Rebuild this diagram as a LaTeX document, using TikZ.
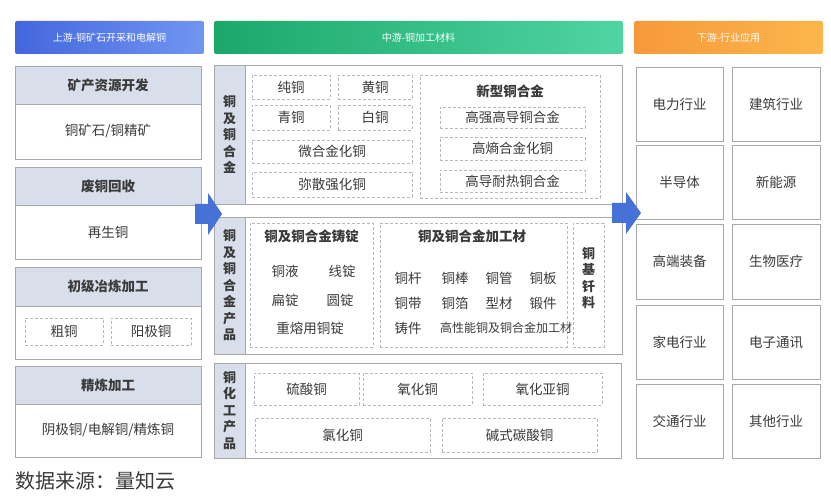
\documentclass[tikz,border=0pt]{standalone}
\usepackage{fontspec}
\setmainfont{Noto Sans CJK SC}
\usetikzlibrary{positioning}

\definecolor{bandgrey}{HTML}{D8DFEA}
\definecolor{cellline}{HTML}{A8A8A8}
\definecolor{dashline}{HTML}{B8B8B8}
\definecolor{ink}{HTML}{3A3A3A}
\definecolor{arrowblue}{HTML}{4672D8}
\definecolor{upleft}{HTML}{4466DD}
\definecolor{upright}{HTML}{7096F2}
\definecolor{midleft}{HTML}{1BA86A}
\definecolor{midright}{HTML}{50D4A3}
\definecolor{downleft}{HTML}{F7993A}
\definecolor{downright}{HTML}{FBB64C}

\tikzset{
  sz/.style 2 args={minimum width=#1pt, minimum height=#2pt},
  hdr/.style={rounded corners=2pt, text=white, inner sep=0pt,
    font=\fontsize{10}{12}\selectfont},
  cell/.style={draw=cellline, line width=0.9pt, fill=white, inner sep=0pt,
    text=ink, font=\fontsize{13.5}{16}\selectfont},
  headcell/.style={cell, fill=bandgrey, font=\fontsize{13.5}{16}\selectfont\bfseries},
  band/.style={cell, fill=bandgrey, align=center,
    font=\fontsize{13}{16.5}\selectfont\bfseries},
  dbox/.style={draw=dashline, dash pattern=on 3pt off 2pt, line width=0.8pt,
    fill=white, inner sep=0pt, text=ink, font=\fontsize{13.5}{16}\selectfont},
  item/.style={inner sep=0pt, text=ink, font=\fontsize{13.5}{16}\selectfont},
  title/.style={item, font=\fontsize{13.5}{16}\selectfont\bfseries},
  blockarrow/.style={fill=arrowblue}
}

\begin{document}
\begin{tikzpicture}[x=1pt, y=-1pt]
  \useasboundingbox[fill=white] (0,0) rectangle (831,500);

  % stage bars
  \node[hdr, sz={189}{33}, left color=upleft, right color=upright] (up) at (109.5,37.5) {上游-铜矿石开采和电解铜};
  \node[hdr, sz={409}{33}, left color=midleft, right color=midright] (mid) at (418.5,37.5) {中游-铜加工材料};
  \node[hdr, sz={189}{33}, left color=downleft, right color=downright] (down) at (728.5,37.5) {下游-行业应用};

  % upstream
  \node[headcell, sz={186}{38}] (minehd) at (108,85) {矿产资源开发};
  \node[cell, sz={186}{55}] (mine) at (108,131.5) {铜矿石/铜精矿};
  \node[headcell, sz={186}{38}] (scraphd) at (108,186) {废铜回收};
  \node[cell, sz={186}{54}] (scrap) at (108,232) {再生铜};
  \node[headcell, sz={186}{39}] (smelthd) at (108,286.5) {初级冶炼加工};
  \node[cell, sz={186}{53}] (smelt) at (108,332.5) {};
  \node[dbox, sz={78}{27}] (blister) at (64,331.5) {粗铜};
  \node[dbox, sz={80}{27}] (anode) at (151,331.5) {阳极铜};
  \node[headcell, sz={186}{38}] (refinehd) at (108,385) {精炼加工};
  \node[cell, sz={186}{53}] (refine) at (108,430.5) {阴极铜/电解铜/精炼铜};
  \node[anchor=west, inner sep=0pt, text=ink, font=\fontsize{20}{24}\selectfont] (source) at (15,481) {数据来源：量知云};

  % midstream: alloys
  \node[cell, sz={408}{139}] (alloy) at (418,134.5) {};
  \node[band, sz={31}{139}] (alloyband) at (229.5,134.5) {铜\\及\\铜\\合\\金};
  \node[dbox, sz={78}{24}] (pure) at (291,87) {纯铜};
  \node[dbox, sz={74}{24}] (brass) at (375,87) {黄铜};
  \node[dbox, sz={78}{25}] (bronze) at (291,117.5) {青铜};
  \node[dbox, sz={74}{25}] (cupro) at (375,117.5) {白铜};
  \node[dbox, sz={160}{23}] (micro) at (332,151.5) {微合金化铜};
  \node[dbox, sz={160}{25}] (disp) at (332,184.5) {弥散强化铜};
  \node[dbox, sz={180}{123}] (newalloy) at (510,136.5) {};
  \node[title] (newtitle) at (510,91) {新型铜合金};
  \node[dbox, sz={145}{21}] (hshc) at (512.5,117.5) {高强高导铜合金};
  \node[dbox, sz={145}{23}] (heac) at (512.5,148.5) {高熵合金化铜};
  \node[dbox, sz={145}{22}] (hchr) at (512.5,181) {高导耐热铜合金};

  % midstream: products
  \node[cell, sz={408}{137}] (prod) at (418,285.5) {};
  \node[band, sz={31}{137}] (prodband) at (229.5,285.5) {铜\\及\\铜\\合\\金\\产\\品};
  \node[dbox, sz={123}{124}] (ingot) at (311.5,285) {};
  \node[title] (ingottitle) at (311.5,236) {铜及铜合金铸锭};
  \node[item] (liquid) at (285,271) {铜液};
  \node[item] (wire) at (342,271) {线锭};
  \node[item] (slab) at (285,300) {扁锭};
  \node[item] (round) at (340,300) {圆锭};
  \node[item] (remelt) at (310,328) {重熔用铜锭};
  \node[dbox, sz={187}{124}] (semi) at (473.5,285) {};
  \node[title] (semititle) at (472,236) {铜及铜合金加工材};
  \node[item] (rod) at (408,278) {铜杆};
  \node[item] (bar) at (455,278) {铜棒};
  \node[item] (tube) at (499,278) {铜管};
  \node[item] (plate) at (543,278) {铜板};
  \node[item] (strip) at (408,303) {铜带};
  \node[item] (foil) at (455,303) {铜箔};
  \node[item] (profile) at (499,303) {型材};
  \node[item] (forge) at (543,303) {锻件};
  \node[item] (cast) at (408,328) {铸件};
  \node[item, font=\fontsize{12}{14}\selectfont] (highperf) at (506,328) {高性能铜及铜合金加工材};
  \node[dbox, sz={31}{124}] (braze) at (588.5,285) {};
  \node[title, align=center, font=\fontsize{13}{16.5}\selectfont\bfseries] (brazetext) at (588.5,278) {铜\\基\\钎\\料};

  % midstream: chemicals
  \node[cell, sz={407}{95}] (chem) at (417.5,410.5) {};
  \node[band, sz={31}{95}] (chemband) at (229.5,410.5) {铜\\化\\工\\产\\品};
  \node[dbox, sz={105}{32}] (sulfate) at (306.5,389) {硫酸铜};
  \node[dbox, sz={109}{32}] (oxide) at (417.5,389) {氧化铜};
  \node[dbox, sz={119}{32}] (suboxide) at (542.5,389) {氧化亚铜};
  \node[dbox, sz={175}{34}] (chloride) at (342.5,435) {氯化铜};
  \node[dbox, sz={155}{34}] (carbonate) at (519.5,435) {碱式碳酸铜};

  % downstream
  \foreach \i/\y/\h/\a/\b in {1/104/74/电力行业/建筑行业,
                             2/182/74/半导体/新能源,
                             3/261.5/75/高端装备/生物医疗,
                             4/342/74/家电行业/电子通讯,
                             5/421/74/交通行业/其他行业} {
    \node[cell, sz={87}{\h}] (useL\i) at (679.5,\y) {\a};
    \node[cell, sz={88}{\h}] (useR\i) at (776,\y) {\b};
  }

  % flow arrows
  \fill[blockarrow, shift={(195,214)}] (0,-10) -- (13,-10) -- (13,-21) -- (27,0)
    -- (13,21) -- (13,10) -- (0,10) -- cycle;
  \fill[blockarrow, shift={(612,213)}] (0,-10) -- (14,-10) -- (14,-21) -- (29,0)
    -- (14,21) -- (14,10) -- (0,10) -- cycle;
\end{tikzpicture}
\end{document}
